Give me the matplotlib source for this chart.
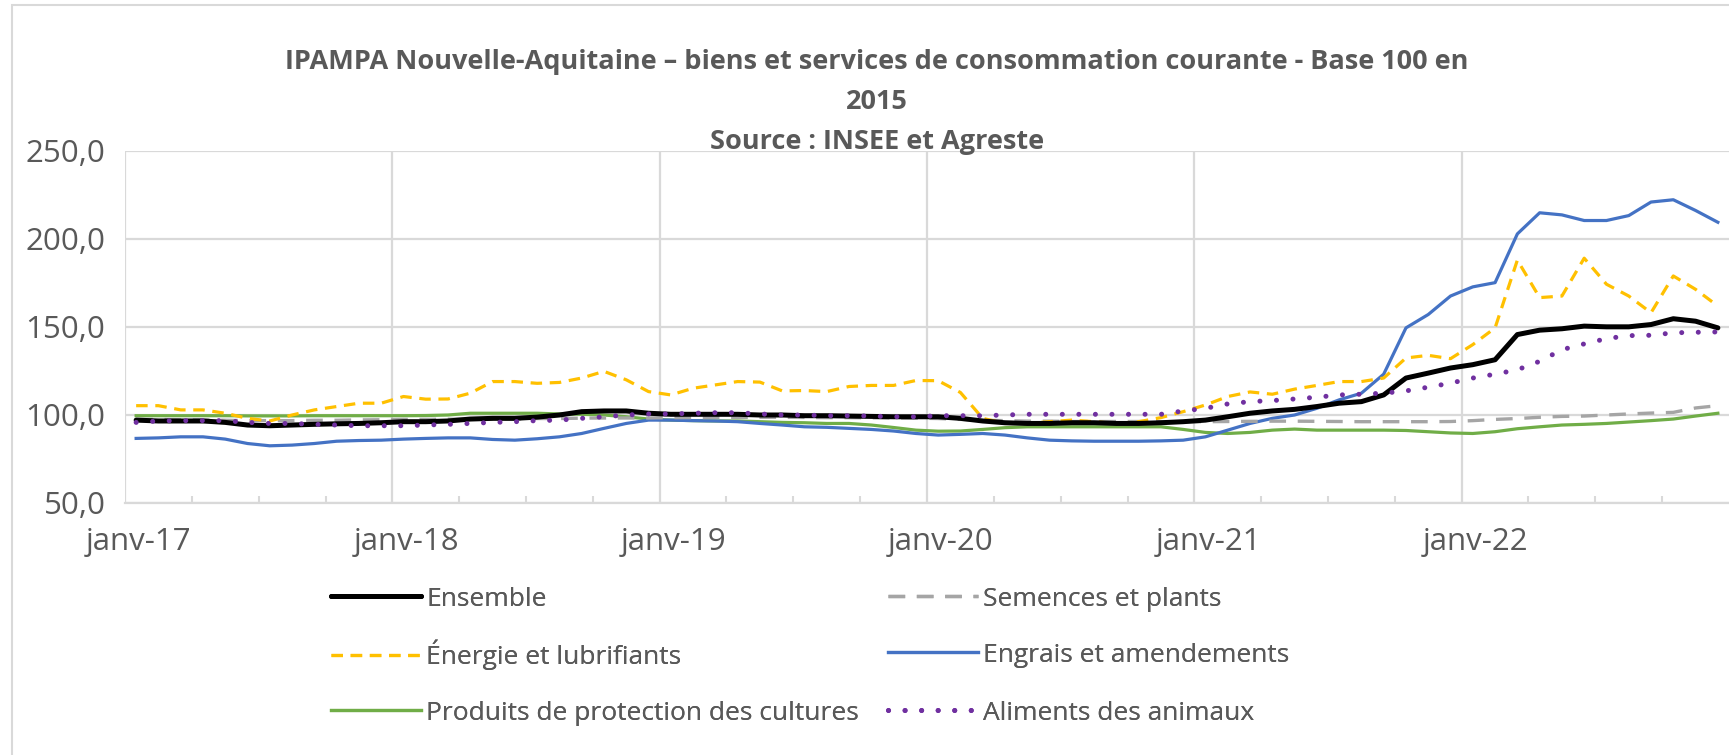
import numpy as np
import matplotlib
matplotlib.use("Agg")
from matplotlib import pyplot as plt
from matplotlib import patches as pth
from matplotlib.transforms import ScaledTranslation

plt.rcParams['font.family'] = ['Open Sans', 'DejaVu Sans']

# monthly values, janv-17 .. dec-22
ensemble = [97.1, 96.6, 96.6, 96.6, 95.8, 94.3, 93.9, 94.3, 94.7, 95.0, 95.2, 95.6,
            96.2, 96.2, 96.6, 97.7, 98.1, 98.1, 98.8, 100.0, 101.9, 102.3, 102.3, 101.0,
            100.4, 100.4, 100.4, 100.4, 100.0, 100.0, 99.6, 99.6, 99.4, 99.2, 99.0, 99.0,
            99.0, 98.1, 96.6, 95.6, 95.2, 95.2, 95.6, 95.6, 95.2, 95.2, 95.6, 96.2,
            97.1, 99.0, 101.0, 102.3, 103.2, 104.8, 106.7, 107.6, 111.4, 121.0, 123.8, 126.7,
            128.6, 131.4, 145.7, 148.2, 149.0, 150.5, 150.1, 150.1, 151.4, 154.7, 153.3, 149.5]
semences = [97.5, 97.5, 97.3, 97.2, 97.0, 96.8, 96.8, 96.8, 97.0, 97.0, 97.2, 97.3,
            97.5, 97.5, 97.6, 97.7, 97.8, 97.8, 98.0, 98.0, 98.2, 98.3, 98.3, 98.3,
            98.5, 98.5, 98.6, 98.6, 98.7, 98.7, 98.6, 98.5, 98.5, 98.4, 98.3, 98.2,
            98.0, 97.5, 97.0, 96.8, 96.5, 96.5, 96.3, 96.3, 96.3, 96.3, 96.2, 96.2,
            96.2, 96.3, 96.4, 96.5, 96.5, 96.4, 96.3, 96.2, 96.2, 96.2, 96.2, 96.3,
            96.8, 97.5, 98.0, 98.7, 99.2, 99.4, 100.0, 100.6, 101.1, 101.5, 104.0, 105.3]
energie = [105.3, 105.3, 102.9, 102.9, 101.0, 98.1, 96.6, 100.0, 102.9, 104.8, 106.7, 106.7,
           110.5, 109.0, 109.1, 112.4, 119.0, 119.0, 118.0, 118.5, 121.0, 124.8, 120.0, 113.3,
           111.4, 115.2, 117.1, 119.0, 118.7, 113.7, 113.9, 113.3, 116.2, 116.8, 116.8, 119.6,
           119.5, 112.8, 98.1, 95.2, 95.2, 96.2, 97.1, 96.2, 95.2, 96.2, 98.5, 101.9,
           105.7, 110.5, 113.1, 111.8, 114.7, 116.8, 119.0, 119.0, 121.0, 132.4, 133.9, 132.0,
           140.0, 149.5, 188.0, 166.7, 167.6, 189.1, 174.3, 167.6, 158.1, 179.0, 171.4, 161.9]
engrais = [86.7, 87.0, 87.6, 87.6, 86.3, 83.8, 82.5, 82.9, 83.8, 85.1, 85.5, 85.7,
           86.3, 86.7, 87.0, 87.0, 86.1, 85.7, 86.5, 87.6, 89.5, 92.4, 95.2, 97.1,
           97.1, 96.8, 96.6, 96.2, 95.2, 94.3, 93.3, 93.0, 92.4, 91.8, 90.9, 89.5,
           88.6, 89.0, 89.5, 88.6, 87.0, 85.7, 85.3, 85.1, 85.1, 85.1, 85.3, 85.7,
           87.6, 91.4, 95.2, 98.1, 100.0, 103.8, 108.6, 112.4, 123.2, 149.5, 157.1, 167.6,
           172.8, 175.2, 202.9, 214.9, 213.7, 210.5, 210.5, 213.3, 221.0, 222.3, 216.2, 209.5]
produits = [99.6, 99.6, 99.6, 99.6, 99.6, 99.5, 99.5, 99.5, 99.6, 99.6, 99.6, 99.6,
            99.6, 99.7, 100.0, 101.0, 101.0, 101.0, 101.0, 100.6, 100.4, 100.0, 99.0, 97.7,
            97.1, 96.8, 96.6, 96.6, 96.2, 95.8, 95.6, 95.2, 95.2, 94.3, 92.9, 91.4,
            90.8, 90.9, 91.8, 92.8, 93.3, 93.3, 93.3, 93.3, 93.3, 93.3, 93.3, 91.8,
            90.1, 89.5, 90.1, 91.4, 92.0, 91.4, 91.4, 91.4, 91.4, 91.2, 90.5, 89.8,
            89.5, 90.5, 92.2, 93.3, 94.3, 94.7, 95.2, 96.0, 96.8, 97.7, 99.4, 101.0]
aliments = [95.8, 96.6, 96.8, 96.8, 96.8, 95.8, 95.2, 95.2, 94.7, 94.3, 93.9, 93.9,
            93.9, 94.3, 94.7, 95.2, 95.8, 96.2, 96.8, 97.1, 98.1, 99.0, 100.0, 100.6,
            100.6, 101.0, 101.3, 101.3, 100.6, 100.0, 100.0, 99.6, 99.6, 99.4, 99.0, 99.0,
            99.6, 99.6, 99.6, 100.0, 100.4, 100.4, 100.4, 100.4, 100.4, 100.4, 100.4, 102.3,
            103.8, 106.3, 107.6, 108.2, 109.1, 110.1, 111.4, 111.8, 112.4, 113.7, 115.8, 118.1,
            121.0, 123.2, 125.7, 130.5, 137.1, 140.4, 143.4, 145.1, 145.3, 146.7, 147.0, 147.2]

year_labels = ['janv-17', 'janv-18', 'janv-19', 'janv-20', 'janv-21', 'janv-22']
y_ticks = [50, 100, 150, 200, 250]
y_labels = ['50,0', '100,0', '150,0', '200,0', '250,0']

TXT = '#595959'
GRID = '#D9D9D9'

W, H = 1729, 755
fig = plt.figure(figsize=(W / 100, H / 100), dpi=100)
fig.patch.set_facecolor('white')

# outer chart border (cut on the right/bottom like the source)
fig.add_artist(pth.Rectangle((12 / W, -0.2), 1.5, 1.2 - 5 / H, transform=fig.transFigure,
                             fill=False, edgecolor=GRID, lw=1.5, clip_on=False))

ax = fig.add_axes([125 / W, 1 - 503 / H, (W - 125) / W, (503 - 151) / H])

x = np.arange(len(ensemble)) + 0.5  # points at month centres

ax.plot(x, produits, color='#70AD47', lw=2.3, label='Produits de protection des cultures', zorder=3)
ax.plot(x, engrais, color='#4472C4', lw=2.3, label='Engrais et amendements', zorder=3)
ax.plot(x, semences, color='#A5A5A5', lw=2.4, dashes=(5, 3.5), label='Semences et plants', zorder=3)
ax.plot(x, energie, color='#FFC000', lw=2.3, dashes=(3.6, 2.4), label='Énergie et lubrifiants', zorder=4)
ax.plot(x, ensemble, color='black', lw=3.6, label='Ensemble', solid_capstyle='round', zorder=4)
ax.plot(x, aliments, color='#7030A0', lw=3.6, dashes=(0.01, 3.3), dash_capstyle='round',
        label='Aliments des animaux', zorder=5)

ax.set_xlim(0, 72)
ax.set_ylim(50, 250)
ax.set_xticks(np.arange(0, 72, 12))
ax.set_xticklabels(year_labels)
ax.set_xticks(np.arange(0, 72, 3), minor=True)
ax.set_yticks(y_ticks)
ax.set_yticklabels(y_labels)

ax.grid(True, which='major', color=GRID, lw=1.6)
ax.set_axisbelow(True)
for s in ['top', 'right', 'left']:
    ax.spines[s].set_visible(False)
ax.spines['bottom'].set_color(GRID)
ax.spines['bottom'].set_linewidth(1.6)

ax.tick_params(axis='y', length=0, pad=14, labelsize=22.5, labelcolor=TXT)
ax.tick_params(axis='x', which='major', length=0, pad=17, labelsize=22.5, labelcolor=TXT)
ax.tick_params(axis='x', which='minor', direction='in', length=5, width=1.5, color=GRID)
for lab in ax.get_xticklabels():
    lab.set_transform(lab.get_transform() + ScaledTranslation(0.14, 0, fig.dpi_scale_trans))

fig.text(877 / W, 1 - 102 / H,
         'IPAMPA Nouvelle-Aquitaine – biens et services de consommation courante - Base 100 en\n'
         '2015\nSource : INSEE et Agreste',
         ha='center', va='center', fontsize=19.5, fontweight='bold', color=TXT,
         linespacing=1.72, multialignment='center')

# legend: 3 rows x 2 columns, one entry per cell so rows line up
h, l = ax.get_legend_handles_labels()
hd = dict(zip(l, h))
cells = [('Ensemble', 0, 0), ('Semences et plants', 1, 0),
         ('Énergie et lubrifiants', 0, 1), ('Engrais et amendements', 1, 1),
         ('Produits de protection des cultures', 0, 2), ('Aliments des animaux', 1, 2)]
col_x = [331, 888]
row_y = [599, 655, 713]
for name, c, r in cells:
    lg = fig.legend([hd[name]], [name], frameon=False, loc='center left',
                    bbox_to_anchor=(col_x[c] / W, 1 - row_y[r] / H),
                    borderpad=0, borderaxespad=0, fontsize=19, labelcolor=TXT,
                    handlelength=3.4, handletextpad=0.2)
    fig.add_artist(lg)

fig.savefig('out.png', dpi=100)
